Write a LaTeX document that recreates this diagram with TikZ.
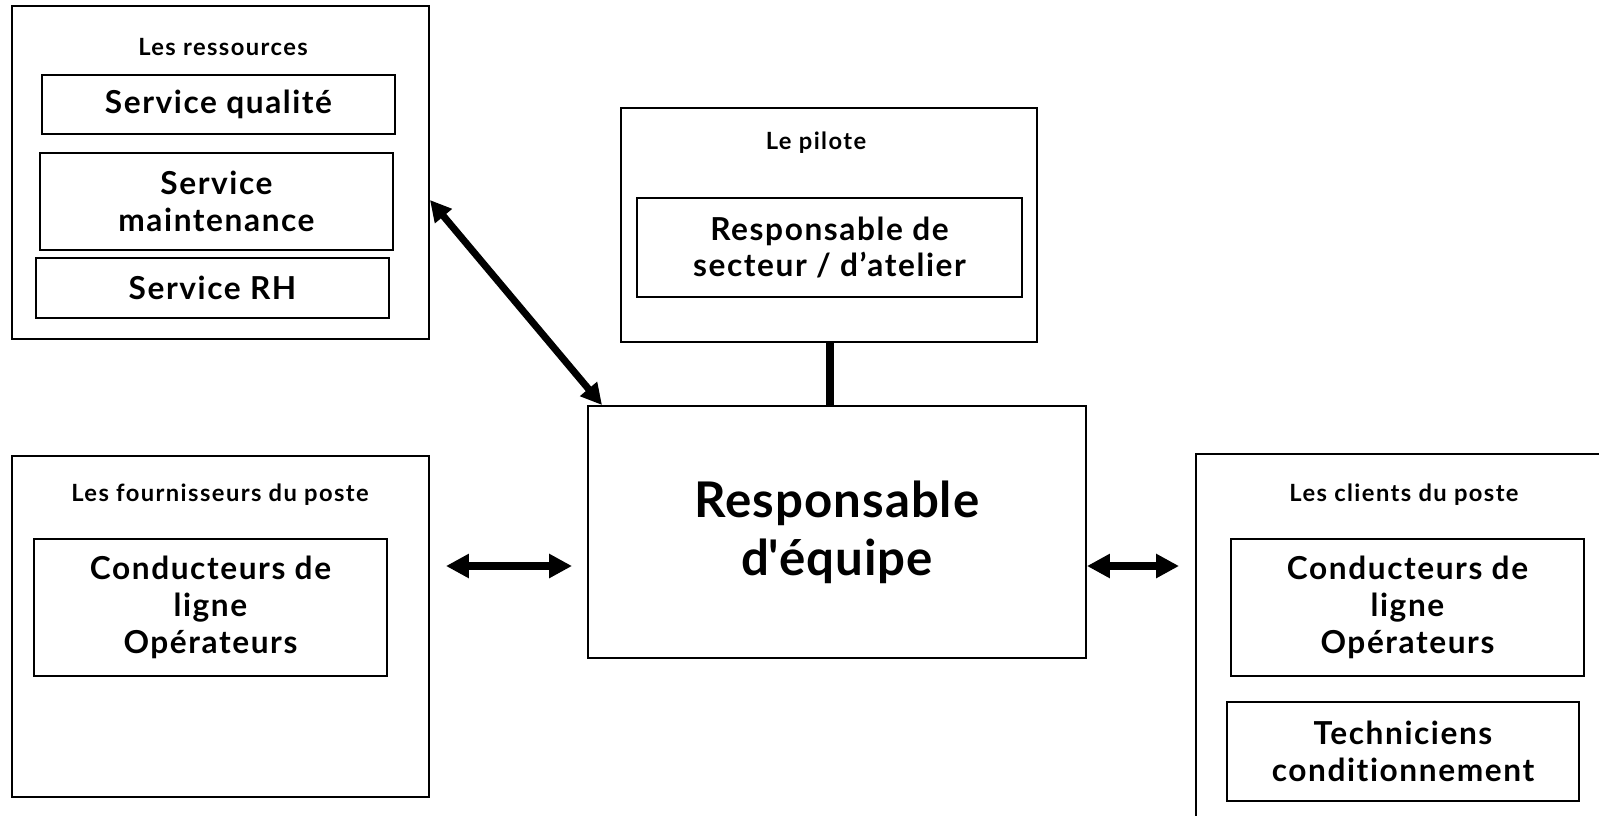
\documentclass[tikz,border=0pt]{standalone}
\usepackage{fontspec}
\setmainfont{Lato}[Ligatures={TeX,NoCommon}]
\usetikzlibrary{arrows.meta, calc}
\tikzset{
  bloc/.style={
    draw=#1,
    line width=1.1pt,
    rectangle,
    inner sep=0pt
  },
  bloc/.default={black},
%
  service/.style={
    draw=#1,
    line width=1.1pt,
    align=center,
    inner sep=0pt,
    font=\bfseries\fontsize{18}{21}\selectfont\addfontfeature{LetterSpace=5}
  },
  service/.default={black},
%
  titre/.style={
    font=\bfseries\fontsize{13.5}{15}\selectfont\addfontfeature{LetterSpace=6}
  },
%
  central/.style={
    draw=#1,
    line width=1.1pt,
    align=center,
    inner sep=0pt,
    font=\bfseries\fontsize{28}{33}\selectfont\addfontfeature{LetterSpace=2}
  },
  central/.default={black},
%
  edge/.style={
    draw=#1,
    line width=4.5pt,
    {Triangle[length=13pt,width=13pt]}-{Triangle[length=13pt,width=13pt]}
  },
  edge/.default={black},
%
  diagedge/.style={
    draw=#1,
    line width=4pt,
    {Triangle[length=12pt,width=12pt]}-{Triangle[length=12pt,width=12pt]}
  },
  diagedge/.default={black},
%
  lien/.style={
    draw=#1,
    line width=5pt
  },
  lien/.default={black},
}

\begin{document}
\begin{tikzpicture}
\useasboundingbox (0,0) rectangle (31.98,-16.3);
\clip (0,0) rectangle (31.98,-16.3);

\node[bloc, minimum width=8.34cm, minimum height=6.66cm] at (4.41,-3.45) (ressources) {};
\node[titre] at (4.46,-0.94) (tressources) {Les ressources};
\node[service, minimum width=7.06cm, minimum height=1.18cm] at (4.37,-2.09) (qualite) {Service qualité};
\node[service, minimum width=7.06cm, minimum height=1.94cm] at (4.33,-4.03) (maintenance) {Service\\maintenance};
\node[service, minimum width=7.06cm, minimum height=1.2cm] at (4.25,-5.76) (rh) {Service RH};

\node[bloc, minimum width=8.34cm, minimum height=6.82cm] at (4.41,-12.53) (fournisseurs) {};
\node[titre] at (4.40,-9.90) (tfournisseurs) {Les fournisseurs du poste};
\node[service, minimum width=7.06cm, minimum height=2.74cm] at (4.21,-12.15) (condf) {Conducteurs de\\ligne\\Opérateurs};

\node[bloc, minimum width=8.32cm, minimum height=4.68cm] at (16.58,-4.50) (pilote) {};
\node[titre] at (16.32,-2.86) (tpilote) {Le pilote};
\node[service, minimum width=7.70cm, minimum height=1.98cm] at (16.59,-4.95) (secteur) {Responsable de\\secteur / d’atelier};

\node[central, minimum width=9.96cm, minimum height=5.04cm] at (16.74,-10.64) (centre) {Responsable\\d\textquotesingle équipe};

\node[bloc, minimum width=8.48cm, minimum height=7.52cm] at (28.16,-12.84) (clients) {};
\node[titre] at (28.08,-9.90) (tclients) {Les clients du poste};
\node[service, minimum width=7.06cm, minimum height=2.74cm] at (28.15,-12.15) (condc) {Conducteurs de\\ligne\\Opérateurs};
\node[service, minimum width=7.04cm, minimum height=1.98cm] at (28.06,-15.03) (techniciens) {Techniciens\\conditionnement};

\coordinate (niveau) at (0,-11.32);
\draw[lien] (pilote.south -| 16.60,0) -- (centre.north -| 16.60,0);
\draw[diagedge] ([yshift=-0.55cm]ressources.east) -- ([xshift=0.3cm]centre.north west);
\draw[edge, shorten <=0.32cm, shorten >=0.3cm] (fournisseurs.east |- niveau) -- (centre.west |- niveau);
\draw[edge, shorten >=0.32cm] (centre.east |- niveau) -- (clients.west |- niveau);

\end{tikzpicture}
\end{document}
